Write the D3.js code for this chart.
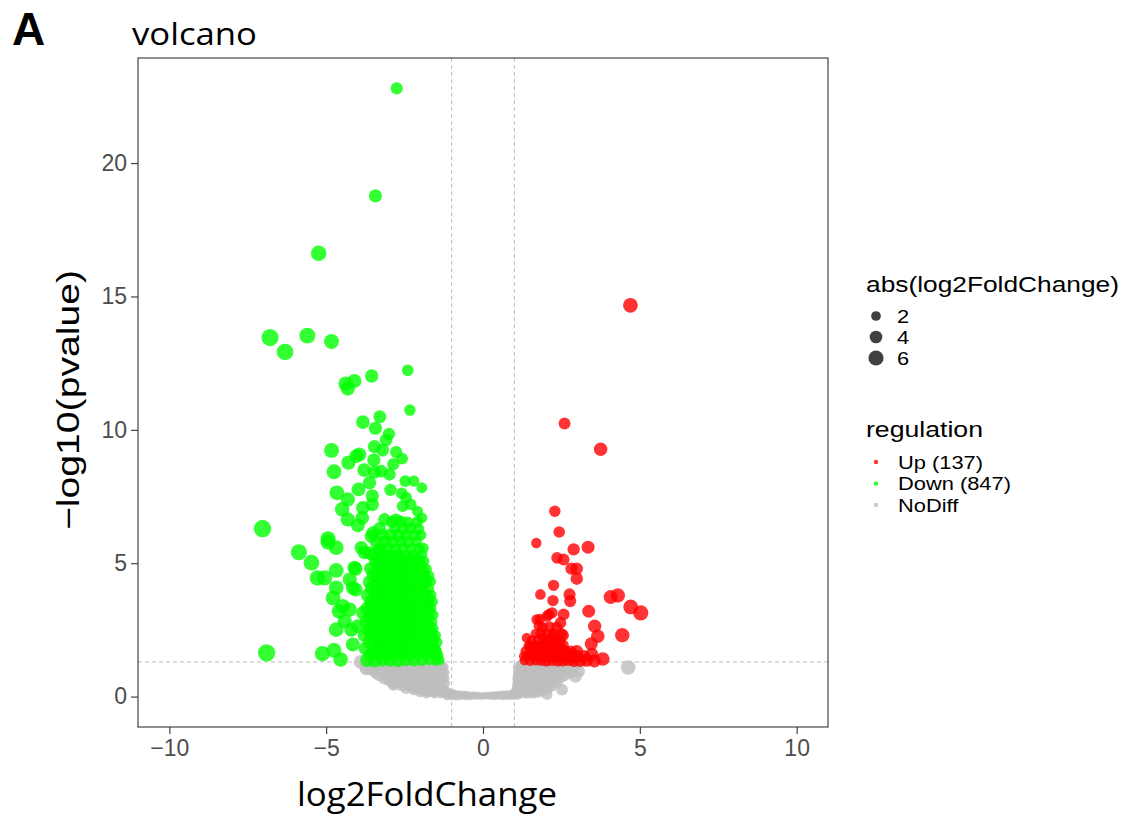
<!DOCTYPE html>
<html>
<head>
<meta charset="utf-8">
<script src="https://cdn.jsdelivr.net/npm/d3@7"></script>
<style>
  body { margin: 0; background: #fff; }
  svg { display: block; }
</style>
</head>
<body>
<svg id="chart" width="1126" height="818"></svg>
<script>
// axis ticks and legend
const xTicks = [-10, -5, 0, 5, 10];
const yTicks = [0, 5, 10, 15, 20];
const sizeBreaks = [2, 4, 6];
const regLabels = ["Up (137)", "Down (847)", "NoDiff"];
const regColors = ["#ff0000", "#00ff00", "#bebebe"];
const fcCut = 1;
const pCut = 1.3;

// [log2FoldChange, -log10(pvalue)]
const noDiffPts = [
  // centre band |log2FC| < 1
  [-1.15,0.03],[-1.0,0.03],[-0.85,0.02],[-0.7,0.03],[-0.55,0.02],[-0.4,0.01],[-0.25,0.02],[-0.1,0.0],
  [0.05,0.01],[0.2,0.02],[0.35,0.01],[0.5,0.03],[0.65,0.02],[0.8,0.03],[0.95,0.04],[1.1,0.05],
  [-1.08,0.1],[-0.92,0.09],[-0.78,0.08],[-0.62,0.07],[-0.48,0.06],[-0.32,0.05],[-0.18,0.05],[-0.02,0.04],
  [0.12,0.05],[0.28,0.06],[0.42,0.06],[0.58,0.07],[0.72,0.08],[0.88,0.09],[1.02,0.1],
  [-1.12,0.14],[-0.98,0.12],[0.97,0.12],[1.1,0.14],
  // left lobe
  [-3.6,1.2],[-3.35,1.18],[-3.1,1.22],[-2.85,1.2],[-2.6,1.19],[-2.35,1.22],[-2.1,1.2],[-1.85,1.21],[-1.6,1.18],[-1.35,1.2],
  [-3.72,1.1],[-3.48,1.12],[-3.22,1.09],[-2.98,1.11],[-2.72,1.1],[-2.48,1.08],[-2.22,1.12],[-1.98,1.1],[-1.72,1.09],[-1.48,1.11],[-1.25,1.1],
  [-3.5,1.0],[-3.25,0.98],[-3.0,1.02],[-2.75,0.99],[-2.5,1.0],[-2.25,1.01],[-2.0,0.98],[-1.75,1.0],[-1.5,1.02],[-1.28,0.99],
  [-3.4,0.9],[-3.15,0.92],[-2.9,0.89],[-2.65,0.91],[-2.4,0.9],[-2.15,0.88],[-1.9,0.92],[-1.65,0.9],[-1.4,0.89],[-1.22,0.91],
  [-3.3,0.82],[-3.05,0.8],[-2.8,0.78],[-2.55,0.81],[-2.3,0.8],[-2.05,0.79],[-1.8,0.82],[-1.55,0.8],[-1.3,0.78],
  [-3.15,0.7],[-2.9,0.72],[-2.65,0.69],[-2.4,0.71],[-2.15,0.7],[-1.9,0.68],[-1.65,0.72],[-1.4,0.7],[-1.22,0.69],
  [-3.0,0.62],[-2.75,0.6],[-2.5,0.59],[-2.25,0.61],[-2.0,0.6],[-1.75,0.58],[-1.5,0.6],[-1.27,0.61],
  [-2.85,0.5],[-2.6,0.52],[-2.35,0.49],[-2.1,0.51],[-1.85,0.5],[-1.6,0.48],[-1.38,0.52],[-1.2,0.5],
  [-2.6,0.42],[-2.35,0.4],[-2.1,0.38],[-1.85,0.41],[-1.6,0.4],[-1.35,0.39],
  [-2.45,0.32],[-2.2,0.33],[-1.95,0.31],[-1.7,0.32],[-1.48,0.3],[-1.28,0.32],
  [-2.2,0.26],[-1.95,0.25],[-1.7,0.24],[-1.45,0.25],[-1.25,0.23],
  [-2.0,0.18],[-1.75,0.19],[-1.52,0.17],[-1.3,0.18],[-1.15,0.19],
  [-1.8,0.13],[-1.55,0.12],[-1.35,0.11],[-1.18,0.12],
  [-3.9,1.3],[-2.85,0.45],[-3.72,1.05],
  // right lobe
  [1.2,1.2],[1.45,1.18],[1.7,1.21],[1.95,1.2],[2.2,1.19],[2.45,1.22],[2.7,1.2],[2.95,1.18],
  [1.1,1.1],[1.32,1.12],[1.58,1.09],[1.82,1.11],[2.08,1.1],[2.32,1.08],[2.58,1.12],[2.82,1.1],
  [1.15,1.0],[1.4,1.02],[1.65,0.99],[1.9,1.0],[2.15,1.01],[2.4,0.98],[2.65,1.0],[3.05,0.95],
  [1.1,0.9],[1.28,0.92],[1.52,0.89],[1.78,0.91],[2.02,0.9],[2.28,0.88],[2.52,0.92],[2.78,0.9],
  [1.12,0.8],[1.35,0.81],[1.6,0.79],[1.85,0.8],[2.1,0.82],[2.35,0.78],[2.6,0.8],
  [1.08,0.7],[1.25,0.72],[1.48,0.69],[1.72,0.71],[1.98,0.7],[2.22,0.68],[2.48,0.72],
  [1.1,0.6],[1.3,0.61],[1.55,0.59],[1.8,0.6],[2.05,0.62],[2.3,0.58],
  [1.08,0.5],[1.22,0.52],[1.42,0.49],[1.65,0.51],[1.9,0.5],[2.12,0.48],[2.35,0.52],
  [1.08,0.4],[1.3,0.41],[1.5,0.39],[1.75,0.4],[2.0,0.38],[2.2,0.4],
  [1.06,0.3],[1.18,0.32],[1.38,0.29],[1.6,0.31],[1.82,0.3],[2.05,0.28],
  [1.06,0.22],[1.25,0.23],[1.45,0.21],[1.7,0.22],[1.9,0.2],
  [1.05,0.16],[1.15,0.17],[1.32,0.15],[1.52,0.16],[1.75,0.15],
  [1.05,0.1],[1.2,0.11],[1.4,0.1],[1.6,0.12],
  [2.52,0.26],[2.04,0.08],[2.95,0.75],[4.63,1.09]
];

const downPts = [
  // outliers
  [-2.75,22.8],[-3.43,18.77],[-5.24,16.62],[-6.79,13.46],[-6.31,12.92],[-5.6,13.53],[-4.83,13.31],
  [-2.4,12.23],[-3.55,12.02],[-4.38,11.73],[-4.1,11.83],[-4.31,11.55],[-2.33,10.74],[-3.29,10.49],
  [-3.83,10.29],[-3.43,10.06],[-3.0,9.84],[-3.09,9.62],[-4.83,9.23],[-3.46,9.37],[-3.2,9.24],
  [-2.77,9.17],[-2.58,8.92],[-3.94,9.08],[-4.04,9.02],[-4.29,8.77],[-3.48,8.87],[-4.75,8.43],
  [-3.79,8.49],[-3.46,8.42],[-3.25,8.45],[-2.98,8.33],[-2.86,8.71],[-2.48,8.08],[-2.21,8.08],
  [-1.95,7.83],[-3.62,8.02],[-3.97,7.77],[-4.66,7.64],[-2.95,7.75],[-2.59,7.62],[-2.45,7.46],
  [-4.31,7.39],[-3.53,7.52],[-3.53,7.2],[-4.49,7.02],[-3.83,7.08],[-2.56,7.14],[-2.3,7.2],
  [-2.09,6.95],[-1.95,6.7],[-4.31,6.64],[-3.85,6.7],[-3.99,6.42],[-3.14,6.64],[-2.77,6.64],
  [-7.03,6.3],[-4.94,5.92],[-3.51,6.14],[-3.56,6.01],[-3.25,5.45],[-3.78,5.4],
  [-5.87,5.41],[-5.47,5.02],[-5.28,4.45],[-5.05,4.45],[-4.94,5.79],[-4.68,5.58],[-4.68,4.73],
  [-4.68,4.08],[-4.78,3.7],[-4.47,3.39],[-4.68,2.51],[-4.25,4.39],[-4.06,4.79],[-4.15,4.08],
  [-3.88,5.58],[-3.62,5.39],[-4.15,1.95],[-6.9,1.64],[-5.12,1.61],[-4.75,1.74],[-4.54,1.39],
  [-4.59,3.2],[-4.1,4.83],[-4.06,4.01],[-4.25,3.26],[-4.41,2.83],[-4.2,2.51],[-3.99,2.64],[-3.83,3.14],
  // dense cluster
  [-3.7,1.36],[-3.45,1.34],[-3.2,1.37],[-2.95,1.35],[-2.7,1.33],[-2.45,1.36],[-2.2,1.34],[-1.95,1.35],[-1.7,1.37],[-1.5,1.34],[-1.38,1.36],
  [-3.6,1.55],[-3.3,1.57],[-3.05,1.53],[-2.8,1.56],[-2.55,1.54],[-2.3,1.55],[-2.05,1.57],[-1.8,1.53],[-1.58,1.56],[-1.42,1.55],
  [-3.48,1.68],[-3.18,1.66],[-2.92,1.69],[-2.68,1.67],[-2.42,1.68],[-2.18,1.66],[-1.92,1.69],[-1.68,1.67],[-1.46,1.68],
  [-3.75,1.8],[-3.5,1.78],[-3.22,1.82],[-2.98,1.79],[-2.72,1.81],[-2.48,1.8],[-2.22,1.78],[-1.98,1.82],[-1.72,1.8],[-1.5,1.79],
  [-3.38,1.93],[-3.12,1.91],[-2.88,1.94],[-2.62,1.92],[-2.38,1.93],[-2.12,1.91],[-1.88,1.94],[-1.6,1.92],
  [-3.62,2.05],[-3.35,2.07],[-3.1,2.03],[-2.85,2.06],[-2.6,2.04],[-2.35,2.05],[-2.1,2.07],[-1.85,2.03],[-1.62,2.06],[-1.45,2.04],
  [-3.5,2.18],[-3.22,2.17],[-2.98,2.19],[-2.72,2.16],[-2.48,2.18],[-2.22,2.17],[-1.98,2.19],[-1.75,2.16],[-1.55,2.18],
  [-3.78,2.3],[-3.48,2.32],[-3.25,2.28],[-2.95,2.31],[-2.7,2.29],[-2.45,2.3],[-2.2,2.32],[-1.95,2.28],[-1.7,2.31],[-1.5,2.3],
  [-3.62,2.43],[-3.35,2.42],[-3.1,2.44],[-2.85,2.41],[-2.6,2.43],[-2.35,2.42],[-2.1,2.44],[-1.85,2.41],[-1.62,2.43],
  [-3.6,2.55],[-3.35,2.57],[-3.08,2.53],[-2.82,2.56],[-2.58,2.54],[-2.32,2.55],[-2.08,2.57],[-1.82,2.53],[-1.58,2.56],
  [-3.48,2.68],[-3.22,2.67],[-2.95,2.69],[-2.7,2.66],[-2.45,2.68],[-2.2,2.67],[-1.95,2.69],[-1.7,2.66],
  [-3.72,2.8],[-3.45,2.82],[-3.18,2.78],[-2.92,2.81],[-2.65,2.79],[-2.4,2.8],[-2.15,2.82],[-1.9,2.78],[-1.62,2.81],
  [-3.62,2.93],[-3.35,2.92],[-3.08,2.94],[-2.82,2.91],[-2.55,2.93],[-2.3,2.92],[-2.05,2.94],[-1.78,2.91],
  [-3.55,3.05],[-3.3,3.07],[-3.02,3.03],[-2.78,3.06],[-2.52,3.04],[-2.28,3.05],[-2.02,3.07],[-1.78,3.03],[-1.58,3.06],
  [-3.45,3.18],[-3.2,3.17],[-2.92,3.19],[-2.68,3.16],[-2.42,3.18],[-2.18,3.17],[-1.92,3.19],[-1.7,3.16],
  [-3.7,3.3],[-3.42,3.32],[-3.15,3.28],[-2.88,3.31],[-2.62,3.29],[-2.38,3.3],[-2.12,3.32],[-1.88,3.28],[-1.65,3.31],
  [-3.55,3.43],[-3.28,3.42],[-3.02,3.44],[-2.75,3.41],[-2.5,3.43],[-2.25,3.42],[-2.0,3.44],[-1.76,3.41],
  [-3.58,3.55],[-3.3,3.57],[-3.05,3.53],[-2.78,3.56],[-2.52,3.54],[-2.25,3.55],[-2.0,3.57],[-1.75,3.53],[-1.6,3.56],
  [-3.45,3.68],[-3.18,3.67],[-2.92,3.69],[-2.65,3.66],[-2.4,3.68],[-2.15,3.67],[-1.9,3.69],[-1.7,3.66],
  [-3.68,3.8],[-3.4,3.82],[-3.12,3.78],[-2.86,3.81],[-2.6,3.79],[-2.35,3.8],[-2.1,3.82],[-1.85,3.78],[-1.65,3.81],
  [-3.42,3.93],[-3.15,3.92],[-2.88,3.94],[-2.62,3.91],[-2.38,3.93],[-2.12,3.92],[-1.86,3.94],
  [-3.55,4.05],[-3.28,4.07],[-3.02,4.03],[-2.75,4.06],[-2.5,4.04],[-2.22,4.05],[-1.98,4.07],[-1.72,4.03],
  [-3.45,4.18],[-3.2,4.17],[-2.92,4.19],[-2.65,4.16],[-2.4,4.18],[-2.15,4.17],[-1.9,4.19],
  [-3.62,4.3],[-3.35,4.32],[-3.1,4.28],[-2.82,4.31],[-2.58,4.29],[-2.32,4.3],[-2.06,4.32],[-1.8,4.28],[-1.66,4.31],
  [-3.35,4.43],[-3.08,4.42],[-2.82,4.44],[-2.58,4.41],[-2.32,4.43],[-2.05,4.42],[-1.82,4.44],
  [-3.5,4.55],[-3.22,4.57],[-2.95,4.53],[-2.7,4.56],[-2.45,4.54],[-2.18,4.55],[-1.92,4.57],[-1.72,4.53],
  [-3.42,4.68],[-3.15,4.67],[-2.88,4.69],[-2.62,4.66],[-2.38,4.68],[-2.12,4.67],[-1.88,4.69],
  [-3.58,4.8],[-3.3,4.82],[-3.05,4.78],[-2.78,4.81],[-2.52,4.79],[-2.28,4.8],[-2.02,4.82],[-1.8,4.78],
  [-3.28,4.93],[-3.02,4.92],[-2.75,4.94],[-2.5,4.91],[-2.25,4.93],[-1.98,4.92],
  [-3.42,5.05],[-3.15,5.07],[-2.9,5.03],[-2.62,5.06],[-2.38,5.04],[-2.12,5.05],[-1.88,5.07],
  [-3.32,5.18],[-3.05,5.17],[-2.8,5.19],[-2.55,5.16],[-2.3,5.18],[-2.05,5.17],
  [-3.5,5.3],[-3.2,5.32],[-2.95,5.28],[-2.7,5.31],[-2.45,5.29],[-2.2,5.3],[-1.95,5.32],
  [-3.3,5.55],[-3.05,5.57],[-2.8,5.53],[-2.55,5.56],[-2.3,5.54],[-2.05,5.55],[-1.9,5.57],
  [-3.4,5.8],[-3.12,5.82],[-2.88,5.78],[-2.62,5.81],[-2.38,5.79],[-2.12,5.8],
  [-3.2,6.05],[-2.95,6.07],[-2.7,6.03],[-2.45,6.06],[-2.2,6.04],[-1.98,6.05],
  [-3.3,6.3],[-2.8,6.32],[-2.55,6.28],[-2.3,6.31],[-2.05,6.29],
  [-2.9,6.55],[-2.62,6.57],[-2.4,6.53],[-2.1,6.56]
];

const upPts = [
  // outliers
  [4.7,14.67],[2.6,10.24],[3.75,9.27],[2.29,6.95],[2.43,6.17],[1.7,5.76],[2.89,5.52],[3.35,5.6],
  [2.36,5.2],[2.57,5.14],[2.82,4.8],[2.99,4.79],[2.99,4.42],[2.25,4.17],[1.83,3.83],[2.76,3.83],
  [2.78,3.58],[2.23,3.6],[4.07,3.73],[4.3,3.79],[4.71,3.36],[5.03,3.14],[3.37,3.2],[4.44,2.3],
  [3.56,2.64],[3.66,2.26],[3.45,1.98],[3.82,1.41],[2.2,3.14],[2.57,3.08],[2.47,2.76],[1.81,2.91],
  [1.78,2.66],[2.04,3.01],[1.39,2.2],[1.49,1.91],[1.94,2.2],[2.25,2.26],[2.55,2.3],[2.15,1.95],
  [2.41,1.89],[2.99,1.7],[3.47,1.58],[1.3,1.51],[1.62,1.58],[2.78,1.58],[3.21,1.51],[1.71,2.89],[2.1,3.08],
  // dense rows above the cut
  [1.32,1.35],[1.5,1.34],[1.68,1.36],[1.85,1.35],[2.02,1.33],[2.2,1.36],[2.38,1.34],[2.55,1.35],[2.72,1.37],[2.9,1.34],[3.1,1.35],[3.3,1.36],[3.55,1.34],
  [1.4,1.5],[1.6,1.52],[1.78,1.49],[1.95,1.51],[2.12,1.5],[2.3,1.48],[2.48,1.52],[2.65,1.5],[2.85,1.49],[3.0,1.51],
  [1.48,1.6],[1.7,1.62],[1.88,1.59],[2.05,1.61],[2.22,1.6],[2.4,1.58],[2.58,1.61],
  [1.35,1.7],[1.55,1.72],[1.72,1.69],[1.9,1.71],[2.08,1.7],[2.28,1.68],[2.45,1.72],[2.62,1.7],[2.8,1.69],
  [1.55,1.8],[1.75,1.82],[1.95,1.79],[2.12,1.81],[2.32,1.8],[2.5,1.78],
  [1.45,1.9],[1.65,1.92],[1.82,1.89],[2.0,1.91],[2.18,1.9],[2.38,1.88],[2.55,1.92],
  [1.55,2.1],[1.75,2.12],[1.92,2.09],[2.1,2.11],[2.3,2.1],[2.45,2.08],
  [1.68,2.35],[1.85,2.37],[2.05,2.34],[2.25,2.36],[2.5,2.35],
  [1.9,2.6],[2.12,2.62],[2.35,2.59]
];

const svg = d3.select("#chart");

const x = d3.scaleLinear().domain([-11, 11]).range([138, 828]);
const y = d3.scaleLinear().domain([-1.14, 23.94]).range([727, 58]);
const r = d3.scaleRadial().domain([0, 7]).range([3.4, 8.7]);

const ggFont = "'Liberation Sans', Arial, sans-serif";
const labFont = "'Open Sans', 'Noto Sans', sans-serif";

// panel
svg.append("rect")
  .attr("x", 138).attr("y", 58).attr("width", 690).attr("height", 669)
  .attr("fill", "#fff");

// cut-off lines
const cutG = svg.append("g")
  .attr("stroke", "#bdbdbd").attr("stroke-width", 1).attr("stroke-dasharray", "4,3");
[-fcCut, fcCut].forEach(v => {
  cutG.append("line").attr("x1", x(v)).attr("x2", x(v)).attr("y1", 58).attr("y2", 727);
});
cutG.append("line").attr("x1", 138).attr("x2", 828).attr("y1", y(pCut)).attr("y2", y(pCut));

// points: NoDiff first, then Down, then Up
const layers = [
  {data: noDiffPts, color: regColors[2]},
  {data: downPts, color: regColors[1]},
  {data: upPts, color: regColors[0]}
];
layers.forEach(l => {
  svg.append("g").selectAll("circle")
    .data(l.data)
    .join("circle")
      .attr("cx", d => x(d[0]))
      .attr("cy", d => y(d[1]))
      .attr("r", d => r(Math.abs(d[0])))
      .attr("fill", l.color)
      .attr("fill-opacity", 0.8);
});

// panel border
svg.append("rect")
  .attr("x", 138).attr("y", 58).attr("width", 690).attr("height", 669)
  .attr("fill", "none").attr("stroke", "#333").attr("stroke-width", 1.1);

// axes
const xAxis = svg.append("g")
  .attr("transform", "translate(0,727)")
  .call(d3.axisBottom(x).tickValues(xTicks).tickSize(7).tickPadding(6)
    .tickFormat(d => d < 0 ? "\u2212" + Math.abs(d) : d));
xAxis.select(".domain").remove();
xAxis.selectAll("line").attr("stroke", "#333").attr("stroke-width", 1.1);
xAxis.selectAll("text")
  .attr("font-family", ggFont).attr("font-size", 23).attr("fill", "#4d4d4d");

const yAxis = svg.append("g")
  .attr("transform", "translate(138,0)")
  .call(d3.axisLeft(y).tickValues(yTicks).tickSize(7).tickPadding(4));
yAxis.select(".domain").remove();
yAxis.selectAll("line").attr("stroke", "#333").attr("stroke-width", 1.1);
yAxis.selectAll("text")
  .attr("font-family", ggFont).attr("font-size", 23).attr("fill", "#4d4d4d");

// titles
svg.append("text")
  .attr("x", 12).attr("y", 45)
  .attr("font-family", ggFont).attr("font-weight", "bold").attr("font-size", 46)
  .text("A");

svg.append("text")
  .attr("x", 132).attr("y", 45)
  .attr("font-family", labFont).attr("font-size", 31)
  .attr("textLength", 125).attr("lengthAdjust", "spacingAndGlyphs")
  .text("volcano");

svg.append("text")
  .attr("x", 297).attr("y", 806)
  .attr("font-family", labFont).attr("font-size", 32)
  .attr("textLength", 260).attr("lengthAdjust", "spacingAndGlyphs")
  .text("log2FoldChange");

svg.append("text")
  .attr("transform", "translate(79,530) rotate(-90)")
  .attr("font-family", ggFont).attr("font-size", 31)
  .attr("textLength", 260).attr("lengthAdjust", "spacingAndGlyphs")
  .text("\u2212log10(pvalue)");

// size legend
const legX = 866;
svg.append("text")
  .attr("x", legX).attr("y", 292)
  .attr("font-family", ggFont).attr("font-size", 22)
  .attr("textLength", 253).attr("lengthAdjust", "spacingAndGlyphs")
  .text("abs(log2FoldChange)");

const sizeY = d3.scalePoint().domain(sizeBreaks).range([316, 358]);
const sizeG = svg.append("g");
sizeG.selectAll("circle")
  .data(sizeBreaks)
  .join("circle")
    .attr("cx", 876).attr("cy", d => sizeY(d))
    .attr("r", d => r(d) - 0.6)
    .attr("fill", "#000").attr("fill-opacity", 0.75);
sizeG.selectAll("text")
  .data(sizeBreaks)
  .join("text")
    .attr("x", 897).attr("y", d => sizeY(d) + 7)
    .attr("font-family", ggFont).attr("font-size", 19)
    .attr("transform", d => `translate(${-897 * 0.15},0) scale(1.15,1)`)
    .text(d => d);

// regulation legend
svg.append("text")
  .attr("x", legX).attr("y", 437)
  .attr("font-family", ggFont).attr("font-size", 22)
  .attr("textLength", 117).attr("lengthAdjust", "spacingAndGlyphs")
  .text("regulation");

const regY = d3.scalePoint().domain(regLabels).range([462, 505]);
const regG = svg.append("g");
regG.selectAll("circle")
  .data(regLabels)
  .join("circle")
    .attr("cx", 876).attr("cy", d => regY(d))
    .attr("r", 2.2)
    .attr("fill", (d, i) => regColors[i]).attr("fill-opacity", 0.8);
regG.selectAll("text")
  .data(regLabels)
  .join("text")
    .attr("x", 898).attr("y", d => regY(d) + 7)
    .attr("font-family", ggFont).attr("font-size", 19)
    .attr("transform", `translate(${-898 * 0.15},0) scale(1.15,1)`)
    .text(d => d);
</script>
</body>
</html>
